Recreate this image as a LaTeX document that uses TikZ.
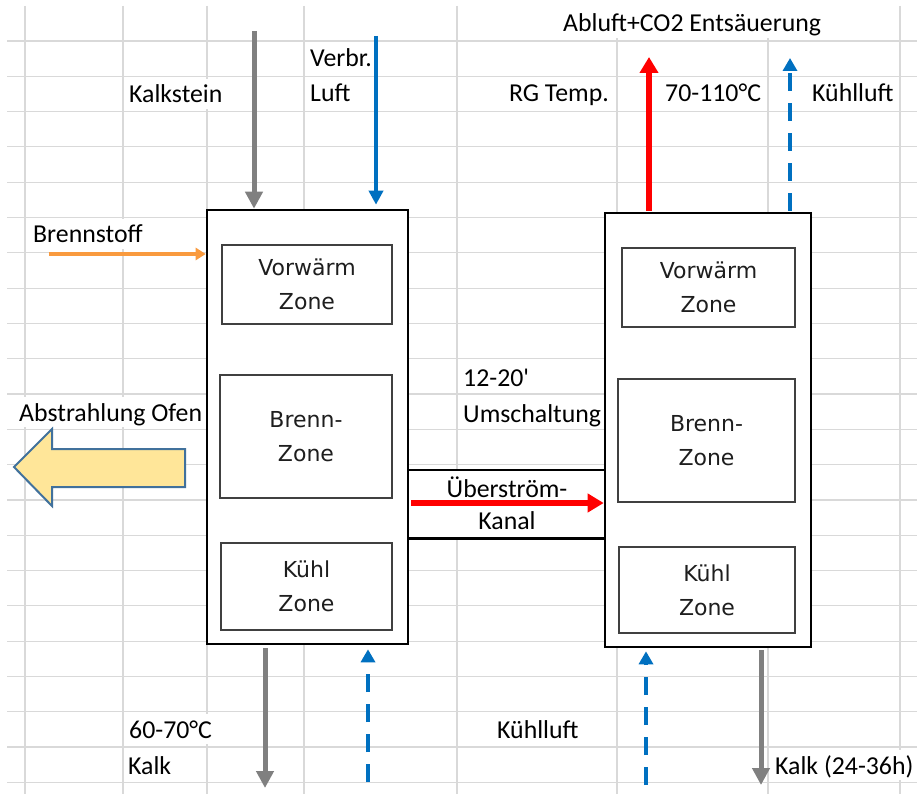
\documentclass[tikz,border=0pt]{standalone}
\usepackage{fontspec}
\setmainfont{Carlito}
\newfontfamily\boxfont{DejaVu Sans}
\usetikzlibrary{arrows.meta}
\definecolor{gridc}{HTML}{D9D9D9}
\definecolor{graya}{HTML}{808080}
\definecolor{bluea}{HTML}{0070C0}
\definecolor{orangea}{HTML}{F99A3E}
\definecolor{reda}{HTML}{FF0000}
\definecolor{zonec}{HTML}{404040}
\definecolor{zonetext}{HTML}{1E1E1E}
\definecolor{blockfill}{HTML}{FFE699}
\definecolor{blockdraw}{HTML}{41719C}
\begin{document}
\begin{tikzpicture}[x=1pt,y=-1pt,
  gridline/.style={draw=gridc, line width=1.2pt},
  kiln/.style={draw=black, line width=2.6pt, fill=white, inner sep=0pt},
  zone/.style={draw=zonec, line width=1.3pt, fill=white, align=center, inner sep=0pt,
     text=zonetext, font=\boxfont\fontsize{22}{34}\selectfont},
  lbl/.style={anchor=base west, inner sep=0pt, text=black, font=\fontsize{25.8}{30}\selectfont},
  hidegrid/.style={fill=white, text height=24pt, text depth=6pt, inner xsep=1pt},
  grayarrow/.style={draw=graya, line width=5pt, -{Triangle[width=17pt,length=17pt]}},
  bluearrow/.style={draw=bluea, line width=4pt, -{Triangle[width=14pt,length=14pt]}},
  bluedash/.style={draw=bluea, line width=4pt, dash pattern=on 18pt off 12pt, -{Triangle[width=14pt,length=13pt]}},
  redarrow/.style={draw=reda, line width=5.5pt, -{Triangle[width=18pt,length=16pt]}},
  orangearrow/.style={draw=orangea, line width=3.5pt, -{Triangle[width=12pt,length=10pt]}},
  channel/.style={draw=black, line width=2.6pt}
]
\useasboundingbox (0,0) rectangle (917,794);
\fill[white] (0,0) rectangle (917,794);
% spreadsheet grid
\foreach \k in {0,...,21} \draw[gridline] (7,41+35.3*\k) -- (917,41+35.3*\k);
\foreach \x in {25,123,207,304,457,617,768,900} \draw[gridline] (\x,6) -- (\x,794);

% labels
\node[lbl,hidegrid] (tkalkstein) at (128,103) {Kalkstein};
\node[lbl] (tverbr) at (310,67) {Verbr.};
\node[lbl] (tluft) at (310,102) {Luft};
\node[lbl,hidegrid] (tbrenn) at (32,243) {Brennstoff};
\node[lbl,hidegrid,text height=26pt] (tabluft) at (562,32) {Abluft+CO2 Entsäuerung};
\node[lbl,anchor=base east] (trg) at (609,102) {RG Temp.};
\node[lbl] (ttemp) at (665,102) {70-110°C};
\node[lbl] (tkuehl1) at (812,102) {Kühlluft};
\node[lbl,hidegrid] (tabstr) at (18,421) {Abstrahlung Ofen};
\node[lbl] (tzeit) at (463,386) {12-20\textquotesingle};
\node[lbl] (tumsch) at (463,422) {Umschaltung};
\node[lbl,hidegrid] (ttemp2) at (128,738) {60-70°C};
\node[lbl] (tkalk) at (128,774) {Kalk};
\node[lbl] (tkuehl2) at (497,738) {Kühlluft};
\node[lbl,hidegrid] (tkalk2) at (774,774) {Kalk (24-36h)};

% channel (behind the kilns)
\node[fill=white, inner sep=0pt, minimum width=197pt, minimum height=68pt] (kanal) at (506.5,504) {};
\draw[channel] (kanal.north west) -- (kanal.north east);
\draw[channel] (kanal.south west) -- (kanal.south east);

% kilns
\node[kiln, minimum width=201pt, minimum height=434pt] (k1) at (307.5,427) {};
\node[kiln, minimum width=206pt, minimum height=434pt] (k2) at (708,430) {};

% zones
\node[zone, minimum width=170pt, minimum height=79pt] (l1) at (307,284.5) {Vorwärm\\Zone};
\node[zone, minimum width=172pt, minimum height=123pt] (l2) at (306,436.5) {Brenn-\\Zone};
\node[zone, minimum width=171pt, minimum height=87pt] (l3) at (306.5,586.5) {Kühl\\Zone};
\node[zone, minimum width=173pt, minimum height=79pt] (r1) at (708.5,287.5) {Vorwärm\\Zone};
\node[zone, minimum width=177pt, minimum height=123pt] (r2) at (706.5,440.5) {Brenn-\\Zone};
\node[zone, minimum width=176pt, minimum height=86pt] (r3) at (707,590) {Kühl\\Zone};

% channel texts and flow
\node[lbl,anchor=base] (tueber) at (507,497) {Überström-};
\node[lbl,anchor=base] (tkanal) at (507,529) {Kanal};
\coordinate (kmid) at (411,503);
\draw[redarrow, line width=6pt] ([xshift=2pt]k1.east |- kmid) -- (k2.west |- kmid);

% top arrows
\coordinate (aKs) at (254,31);
\coordinate (aVl) at (376,36);
\coordinate (aBs) at (49,254);
\coordinate (aAb) at (649,57);
\coordinate (aKl) at (790,58);
\draw[grayarrow] (aKs) -- (aKs |- k1.north);
\draw[bluearrow] (aVl) -- ([yshift=4pt]aVl |- k1.north);
\draw[orangearrow] (aBs) -- (aBs -| k1.west);
\draw[redarrow] ([yshift=1pt]aAb |- k2.north) -- (aAb);
\draw[bluedash] ([yshift=1pt]aKl |- k2.north) -- (aKl);

% bottom arrows
\coordinate (bKa) at (265,788);
\coordinate (bKl) at (368,782);
\coordinate (bKr) at (646,785);
\coordinate (bKa2) at (761,785);
\draw[grayarrow] ([yshift=-3pt]bKa |- k1.south) -- (bKa);
\draw[bluedash] (bKl) -- ([yshift=-4pt]bKl |- k1.south);
\draw[bluedash] (bKr) -- ([yshift=-3pt]bKr |- k2.south);
\draw[grayarrow] ([yshift=-2pt]bKa2 |- k2.south) -- (bKa2);

% radiation block arrow
\filldraw[fill=blockfill, draw=blockdraw, line width=2pt, line join=miter]
  (185,449) -- (52,449) -- (52,429) -- (14,467) -- (52,506) -- (52,487) -- (185,487) -- cycle;
\end{tikzpicture}
\end{document}
